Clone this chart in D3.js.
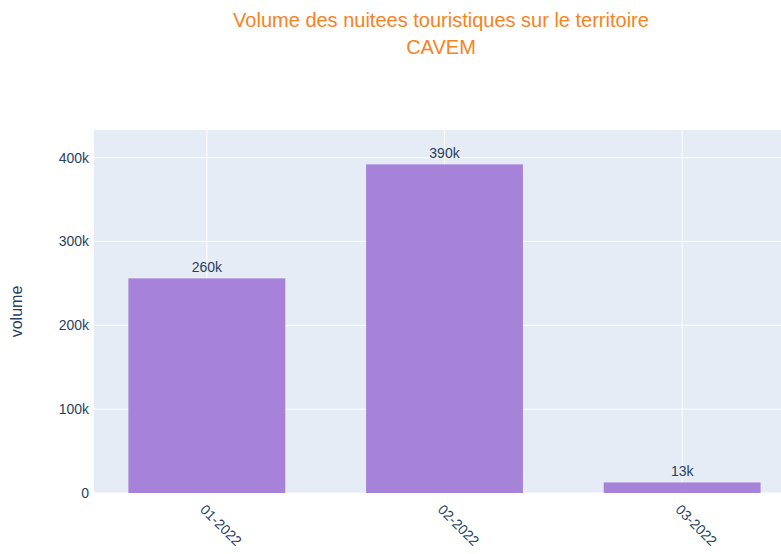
<!DOCTYPE html>
<html>
<head>
<meta charset="utf-8">
<script src="https://cdn.jsdelivr.net/npm/d3@7"></script>
<style>
body { margin: 0; background: #fff; }
text { font-family: "Liberation Sans", Arial, sans-serif; }
</style>
</head>
<body>
<div id="chart"></div>
<script>
// data
var months = ["01-2022", "02-2022", "03-2022"];
var volumes = [256000, 392000, 12600];
var yTicks = [0, 100000, 200000, 300000, 400000];

var W = 781, H = 554;
var plotL = 94, plotR = 801, plotT = 130, plotB = 493;

var svg = d3.select("#chart").append("svg")
    .attr("width", W)
    .attr("height", H);

var x = d3.scaleBand()
    .domain(months)
    .range([88, 801])
    .paddingInner(0.34)
    .paddingOuter(0.17);

var y = d3.scaleLinear()
    .domain([0, 433000])
    .range([plotB, plotT]);

// plot background
svg.append("rect")
    .attr("x", plotL).attr("y", plotT)
    .attr("width", plotR - plotL).attr("height", plotB - plotT)
    .attr("fill", "#e5ecf6");

// gridlines
svg.append("g").selectAll("line").data(yTicks).enter().append("line")
    .attr("x1", plotL).attr("x2", plotR)
    .attr("y1", function(d) { return y(d); })
    .attr("y2", function(d) { return y(d); })
    .attr("stroke", "#fff").attr("stroke-width", 1);

svg.append("g").selectAll("line").data(months).enter().append("line")
    .attr("x1", function(d) { return x(d) + x.bandwidth() / 2; })
    .attr("x2", function(d) { return x(d) + x.bandwidth() / 2; })
    .attr("y1", plotT).attr("y2", plotB)
    .attr("stroke", "#fff").attr("stroke-width", 1);

// bars
svg.append("g").selectAll("rect").data(months).enter().append("rect")
    .attr("x", function(d) { return x(d); })
    .attr("width", x.bandwidth())
    .attr("y", function(d, i) { return y(volumes[i]); })
    .attr("height", function(d, i) { return y(0) - y(volumes[i]); })
    .attr("fill", "#a683d9");

// bar labels
var fmt = d3.format(".2s");
svg.append("g").selectAll("text").data(months).enter().append("text")
    .attr("x", function(d) { return x(d) + x.bandwidth() / 2; })
    .attr("y", function(d, i) { return y(volumes[i]) - 6; })
    .attr("text-anchor", "middle")
    .style("font-size", "14px")
    .attr("fill", "#2a3f5f")
    .text(function(d, i) { return fmt(volumes[i]); });

// y axis
var yAxis = d3.axisLeft(y)
    .tickValues(yTicks)
    .tickSize(0)
    .tickPadding(5)
    .tickFormat(function(d) { return d === 0 ? "0" : d3.format("~s")(d); });

svg.append("g")
    .attr("transform", "translate(" + plotL + ",0)")
    .call(yAxis)
    .call(function(g) { g.select(".domain").remove(); })
    .selectAll("text")
    .style("font-size", "14px")
    .style("font-family", "'Liberation Sans', Arial, sans-serif")
    .attr("fill", "#2a3f5f");

// x axis
var xAxis = d3.axisBottom(x).tickSize(0).tickPadding(0);
svg.append("g")
    .attr("transform", "translate(0," + plotB + ")")
    .call(xAxis)
    .call(function(g) { g.select(".domain").remove(); })
    .selectAll("text")
    .style("font-size", "14px")
    .style("font-family", "'Liberation Sans', Arial, sans-serif")
    .attr("fill", "#2a3f5f")
    .attr("text-anchor", "start")
    .attr("y", 0)
    .attr("dy", "0.35em")
    .attr("transform", "translate(-4,14) rotate(45)");

// axis title
svg.append("text")
    .attr("transform", "translate(22," + (plotT + plotB) / 2 + ") rotate(-90)")
    .attr("text-anchor", "middle")
    .style("font-size", "16px")
    .attr("fill", "#2a3f5f")
    .text("volume");

// title
var title = svg.append("text")
    .attr("text-anchor", "middle")
    .style("font-size", "20px")
    .attr("fill", "#f7831e");
title.append("tspan").attr("x", 441).attr("y", 27)
    .text("Volume des nuitees touristiques sur le territoire");
title.append("tspan").attr("x", 441).attr("y", 54)
    .text("CAVEM");
</script>
</body>
</html>
